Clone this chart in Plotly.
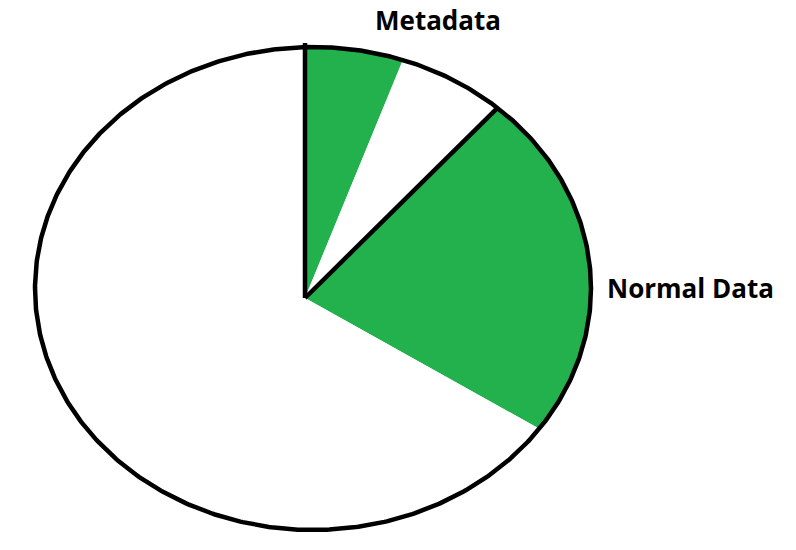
import numpy as np
import plotly.graph_objects as go

# ---- data ----
slice_labels = ["Metadata", "", "Normal Data", ""]
slice_values = [6.2, 6.4, 20.5, 66.9]          # percent of the pie, clockwise from 12 o'clock
slice_colors = ["#22B14C", "#FFFFFF", "#22B14C", "#FFFFFF"]
outlined_boundaries = [0, 2]                    # spokes drawn in black (boundary index)

# ---- geometry (layout, in window pixels) ----
W, H = 796, 550
ecx, ecy = 313, 288.5         # ellipse centre
rx, ry = 278, 241.5
pcx, pcy = 305, 298           # pie centre (where spokes meet)
LW = 4.5

def edge(theta):
    """Point where the ray from the pie centre at angle theta (clockwise from up) meets the ellipse."""
    dx, dy = np.sin(theta), -np.cos(theta)
    u, v = (pcx - ecx) / rx, (pcy - ecy) / ry
    du, dv = dx / rx, dy / ry
    a = du * du + dv * dv
    b = 2 * (u * du + v * dv)
    c = u * u + v * v - 1
    s = (-b + np.sqrt(b * b - 4 * a * c)) / (2 * a)
    return pcx + s * dx, pcy + s * dy

total = sum(slice_values)
bounds = np.concatenate([[0], np.cumsum(slice_values)]) / total * 2 * np.pi

fig = go.Figure()
for i in range(len(slice_values)):
    t = np.linspace(bounds[i], bounds[i + 1], 240)
    x, y = edge(t)
    xs = np.concatenate([[pcx], x, [pcx]])
    ys = np.concatenate([[pcy], y, [pcy]])
    fig.add_trace(go.Scatter(x=xs, y=ys, mode="lines", fill="toself",
                             fillcolor=slice_colors[i], line=dict(width=0),
                             hoverinfo="skip", showlegend=False))

# ellipse outline
t = np.linspace(0, 2 * np.pi, 720)
fig.add_trace(go.Scatter(x=ecx + rx * np.cos(t), y=ecy + ry * np.sin(t), mode="lines",
                         line=dict(color="black", width=LW),
                         hoverinfo="skip", showlegend=False))

# black spokes
for b in outlined_boundaries:
    ex, ey = edge(bounds[b])
    if b == 0:
        ey -= 4
    fig.add_trace(go.Scatter(x=[pcx, ex], y=[pcy, ey], mode="lines",
                             line=dict(color="black", width=LW),
                             hoverinfo="skip", showlegend=False))

label_pos = {"Metadata": (373, 20), "Normal Data": (605, 288)}
for lab in slice_labels:
    if lab:
        lx, ly = label_pos[lab]
        fig.add_annotation(x=lx, y=ly, text="<b>" + lab + "</b>", showarrow=False,
                           xanchor="left", yanchor="middle",
                           font=dict(family="Open Sans", size=26, color="black"))

fig.update_layout(
    width=W, height=H, autosize=False,
    margin=dict(l=0, r=0, t=0, b=0),
    paper_bgcolor="white", plot_bgcolor="white",
    xaxis=dict(range=[0, W], visible=False, fixedrange=True),
    yaxis=dict(range=[H, 0], visible=False, fixedrange=True),
)
fig.write_html("out.html", config={"displayModeBar": False, "staticPlot": True},
               post_script="document.body.style.margin='0px';document.body.style.overflow='hidden';")
